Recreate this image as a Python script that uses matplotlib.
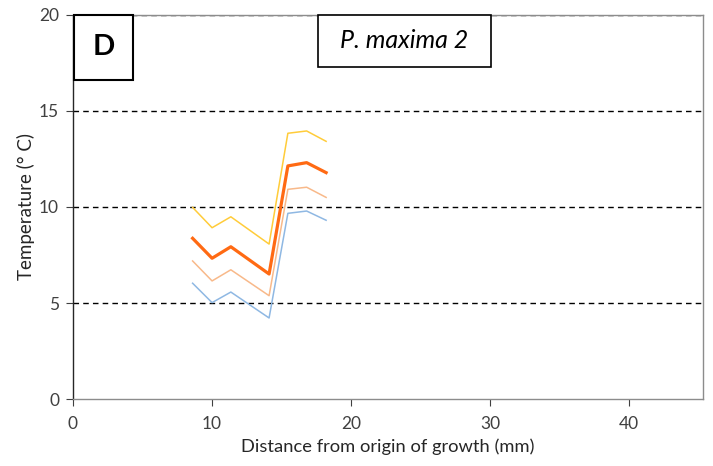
import matplotlib
matplotlib.use("Agg")
import matplotlib.pyplot as plt
from matplotlib.patches import Rectangle

plt.rcParams['font.family'] = ['Lato', 'DejaVu Sans']

distance = [8.6, 10.0, 11.35, 14.1, 15.45, 16.8, 18.2]
temp_upper = [9.98, 8.92, 9.49, 8.07, 13.84, 13.96, 13.42]
temp_mean = [8.37, 7.33, 7.93, 6.51, 12.14, 12.31, 11.79]
temp_lower = [7.19, 6.15, 6.73, 5.38, 10.92, 11.03, 10.50]
temp_lowest = [6.03, 5.02, 5.57, 4.22, 9.67, 9.79, 9.31]

x_ticks = [0, 10, 20, 30, 40]
y_ticks = [0, 5, 10, 15, 20]

fig = plt.figure(figsize=(7.13, 4.66), dpi=100)
ax = fig.add_axes([73/713, 1-399/466, 630/713, 384/466])

for y in y_ticks[1:]:
    ax.axhline(y, color='black', lw=1.0, ls=(0, (4, 3)), zorder=1)

ax.plot(distance, temp_lowest, color='#8FB8E3', lw=1.1, zorder=3)
ax.plot(distance, temp_lower, color='#F8B98A', lw=1.1, zorder=3)
ax.plot(distance, temp_upper, color='#FFCC3A', lw=1.1, zorder=3)
ax.plot(distance, temp_mean, color='#FF6A13', lw=2.3, zorder=4)

ax.set_xlim(0, 45.3)
ax.set_ylim(0, 20)
ax.set_xticks(x_ticks)
ax.set_yticks(y_ticks)
ax.tick_params(axis='both', direction='out', length=5, labelsize=12.5,
               colors='#404040', width=0.8)
ax.tick_params(axis='x', pad=7)
ax.tick_params(axis='y', pad=5)
for s in ['top', 'right', 'bottom']:
    ax.spines[s].set_color('#8C8C8C')
    ax.spines[s].set_linewidth(1.0)
ax.spines['left'].set_color('#262626')
ax.spines['left'].set_linewidth(1.0)

ax.set_xlabel('Distance from origin of growth (mm)', fontsize=13.2, color='#262626', labelpad=5)
ax.set_ylabel('Temperature (° C)', fontsize=13.5, color='#262626', labelpad=3)

# Panel label boxes
ax.add_patch(Rectangle((0.002, 0.831), 0.093, 0.169, transform=ax.transAxes,
                       facecolor='white', edgecolor='black', lw=1.5, zorder=5, clip_on=False))
ax.text(0.0485, 0.9155, 'D', transform=ax.transAxes, ha='center', va='center',
        fontsize=21, fontweight='bold', zorder=6)
ax.add_patch(Rectangle((0.389, 0.865), 0.274, 0.135, transform=ax.transAxes,
                       facecolor='white', edgecolor='black', lw=1.2, zorder=5, clip_on=False))
ax.text(0.526, 0.9325, 'P. maxima 2', transform=ax.transAxes, ha='center', va='center',
        fontsize=18, fontstyle='italic', zorder=6)

fig.savefig('out.png', dpi=100)
